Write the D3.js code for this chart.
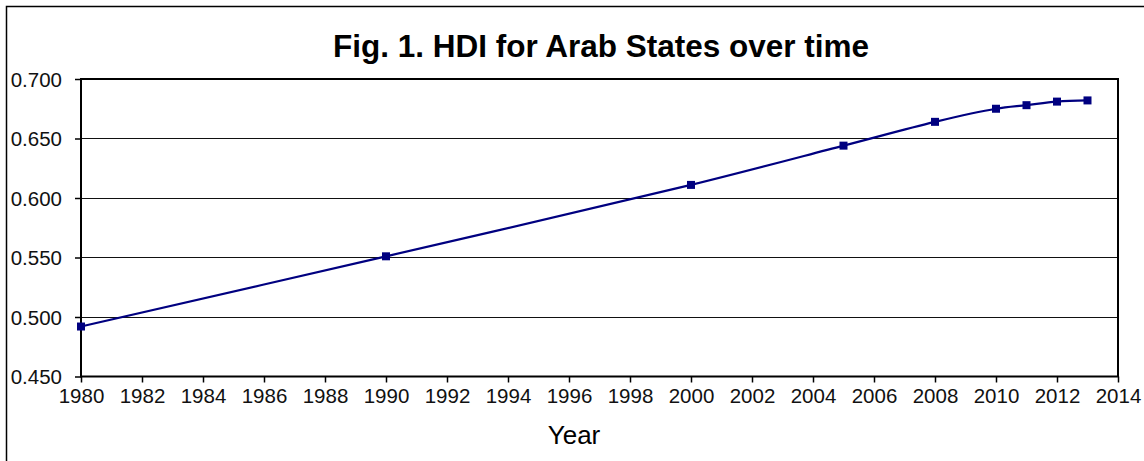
<!DOCTYPE html>
<html><head><meta charset="utf-8">
<script src="https://cdn.jsdelivr.net/npm/d3@7"></script>
<style>body{margin:0;background:#fff;} svg{display:block;font-family:"Liberation Sans",Arial,sans-serif;}</style>
</head><body>
<svg id="c" width="1144" height="461"></svg>
<script>
const years = [1980, 1990, 2000, 2005, 2008, 2010, 2011, 2012, 2013];
const hdi = [0.492, 0.551, 0.611, 0.644, 0.664, 0.675, 0.678, 0.681, 0.682];
const xTicks = d3.range(1980, 2015, 2);
const yTicks = [0.450, 0.500, 0.550, 0.600, 0.650, 0.700];
const title = "Fig. 1. HDI for Arab States over time";
const xLabel = "Year";

const svg = d3.select("#c");
const m = {l: 81, r: 1118, t: 79, b: 376.5};
const x = d3.scaleLinear().domain([1980, 2014]).range([m.l, m.r]);
const y = d3.scaleLinear().domain([0.45, 0.70]).range([m.b, m.t]);

// outer border
svg.append("rect").attr("x", 6.5).attr("y", 6.5).attr("width", 1150).attr("height", 470)
  .attr("fill", "none").attr("stroke", "#000").attr("stroke-width", 1.5);

svg.append("text").attr("x", 601).attr("y", 57).attr("text-anchor", "middle")
  .attr("font-size", 31.5).attr("font-weight", "bold").text(title);

// gridlines
svg.append("g").selectAll("line").data(yTicks.slice(1, -1)).join("line")
  .attr("x1", m.l).attr("x2", m.r).attr("y1", d => Math.round(y(d)) + 0.5).attr("y2", d => Math.round(y(d)) + 0.5)
  .attr("stroke", "#111").attr("stroke-width", 1);

// y axis
const ya = svg.append("g").attr("transform", `translate(${m.l},0)`)
  .call(d3.axisLeft(y).tickValues(yTicks).tickFormat(d3.format(".3f")).tickSize(6).tickSizeOuter(0));
ya.select(".domain").remove();
ya.selectAll("line").attr("stroke", "#000").attr("stroke-width", 1.5);
ya.selectAll("text").attr("font-size", 20.5).attr("fill", "#111").attr("x", -19)
  .attr("font-family", "Liberation Sans, Arial, sans-serif").attr("dy", "0.36em");

// x axis
const xa = svg.append("g").attr("transform", `translate(0,${m.b})`)
  .call(d3.axisBottom(x).tickValues(xTicks).tickFormat(d3.format("d")).tickSize(6).tickSizeOuter(0));
xa.select(".domain").remove();
xa.selectAll("line").attr("stroke", "#000").attr("stroke-width", 1.5);
xa.selectAll("text").attr("font-size", 20.5).attr("fill", "#111").attr("y", 12)
  .attr("font-family", "Liberation Sans, Arial, sans-serif");

// plot frame
svg.append("rect").attr("x", m.l).attr("y", m.t).attr("width", m.r - m.l).attr("height", m.b - m.t)
  .attr("fill", "none").attr("stroke", "#000").attr("stroke-width", 2);

svg.append("text").attr("x", 574).attr("y", 444).attr("text-anchor", "middle")
  .attr("font-size", 26).text(xLabel);

const data = years.map((d, i) => ({yr: d, v: hdi[i]}));
svg.append("path").datum(data)
  .attr("d", d3.line().x(d => x(d.yr)).y(d => y(d.v)).curve(d3.curveCatmullRom.alpha(0.5)))
  .attr("fill", "none").attr("stroke", "#000080").attr("stroke-width", 2.2);

svg.append("g").selectAll("rect").data(data).join("rect")
  .attr("x", d => x(d.yr) - 4).attr("y", d => y(d.v) - 4).attr("width", 8).attr("height", 8)
  .attr("fill", "#000080");
</script>
</body></html>
